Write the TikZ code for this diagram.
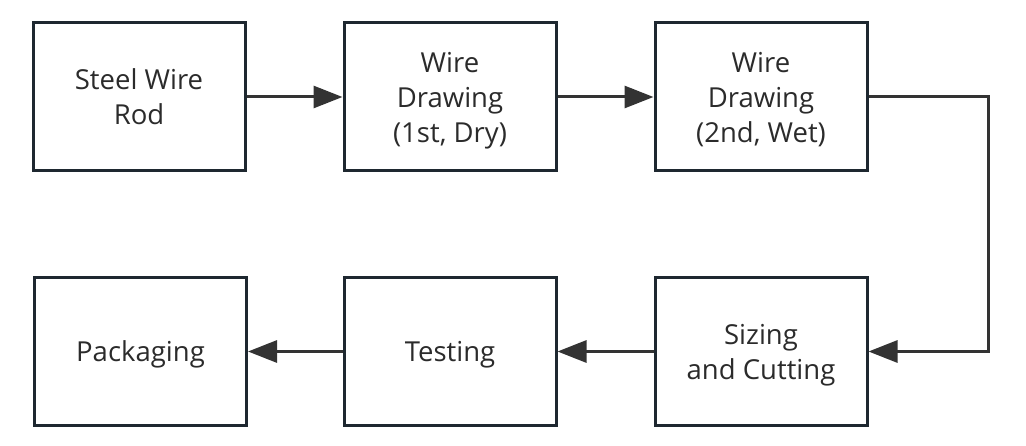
\documentclass[tikz,border=0pt]{standalone}
\usepackage{fontspec}
\setmainfont{Open Sans}
\usetikzlibrary{arrows.meta,positioning}
\definecolor{boxline}{HTML}{1E2830}
\definecolor{flowline}{HTML}{333333}
\definecolor{txt}{HTML}{2B2B2B}

\begin{document}
\begin{tikzpicture}[x=1pt,y=-1pt,
  every node/.style={font=\fontsize{27.5}{35}\selectfont,text=txt},
  stage/.style={draw=boxline,line width=3pt,align=center,inner sep=0pt,text depth=0pt,minimum width=212pt,minimum height=148pt},
  ar/.style={-{Triangle[length=29pt,width=22pt]},draw=flowline,line width=3pt}]
\useasboundingbox (0,0) rectangle (1026,446);
\node[stage] (rod) at (139,97) {Steel Wire\\Rod};
\node[stage] (dry) at (450,97) {Wire\\Drawing\\(1st, Dry)};
\node[stage] (wet) at (761,97) {Wire\\Drawing\\(2nd, Wet)};
\node[stage] (cut) at (761,351.5) {Sizing\\and Cutting};
\node[stage] (test) at (450,351.5) {Testing};
\node[stage] (pack) at (140.5,351.5) {Packaging};
\draw[ar] (rod.east) -- (dry.west);
\draw[ar] (dry.east) -- (wet.west);
\draw[ar] (wet.east) -- ++(120,0) |- (cut.east);
\draw[ar] (cut.west) -- (test.east);
\draw[ar] (test.west) -- (pack.east);
\end{tikzpicture}
\end{document}
